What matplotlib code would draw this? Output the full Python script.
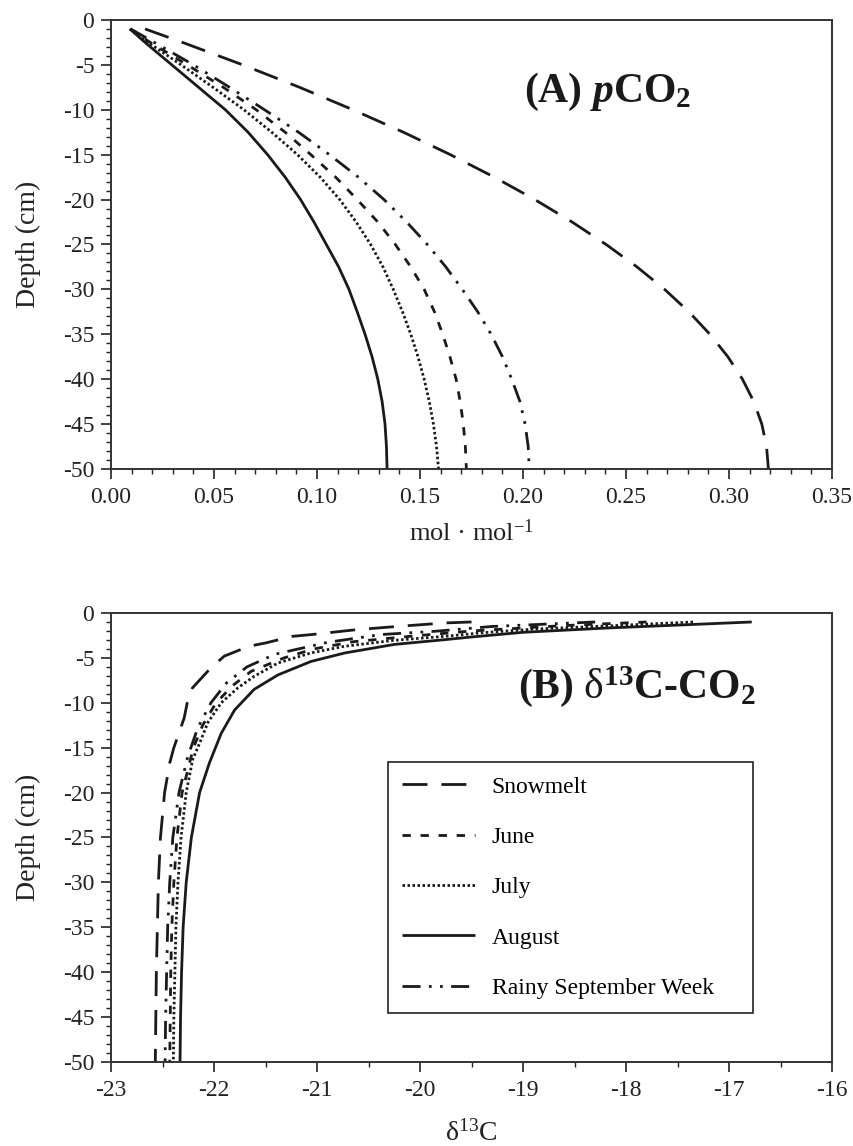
import matplotlib
matplotlib.use('Agg')
import matplotlib.pyplot as plt
from matplotlib.ticker import MultipleLocator, FormatStrFormatter

plt.rcParams['font.family'] = ['Liberation Serif', 'DejaVu Serif']
plt.rcParams['mathtext.fontset'] = 'custom'
plt.rcParams['mathtext.rm'] = 'Liberation Serif'
plt.rcParams['mathtext.it'] = 'Liberation Serif:italic'
plt.rcParams['mathtext.bf'] = 'Liberation Serif:bold'
plt.rcParams['mathtext.bfit'] = 'Liberation Serif:bold:italic'
plt.rcParams['axes.unicode_minus'] = False
plt.rcParams['lines.scale_dashes'] = False

# ---------------- Data ----------------
series = ['Snowmelt', 'June', 'July', 'August', 'Rainy September Week']

# Panel A: pCO2 (mol/mol) vs depth (cm)
depth_a = [-1, -2.5, -5, -7.5, -10, -12.5, -15, -17.5, -20, -22.5, -25,
           -27.5, -30, -32.5, -35, -37.5, -40, -42.5, -45, -47.5, -50]
pco2_snowmelt = [0.0165, 0.0347, 0.0639, 0.0915, 0.1174, 0.1419, 0.1647, 0.1860,
                 0.2057, 0.2238, 0.2403, 0.2553, 0.2687, 0.2805, 0.2907, 0.2994,
                 0.3065, 0.3120, 0.3159, 0.3182, 0.3191]
pco2_june = [0.0092, 0.019, 0.037, 0.0545, 0.0705, 0.0845, 0.097, 0.109, 0.1195,
             0.1295, 0.138, 0.1455, 0.152, 0.157, 0.161, 0.1645, 0.1675, 0.1695,
             0.171, 0.172, 0.1725]
pco2_july = [0.0092, 0.018, 0.034, 0.0495, 0.0645, 0.078, 0.0905, 0.1015, 0.111,
             0.119, 0.126, 0.132, 0.137, 0.1415, 0.1455, 0.149, 0.152, 0.1545,
             0.1565, 0.158, 0.159]
pco2_august = [0.0092, 0.0165, 0.0295, 0.0425, 0.0555, 0.0665, 0.076, 0.0845, 0.092,
               0.0985, 0.1045, 0.1105, 0.1155, 0.1195, 0.1233, 0.1267, 0.1295, 0.1316,
               0.133, 0.1337, 0.134]
pco2_rainy = [0.0095, 0.021, 0.040, 0.0575, 0.0745, 0.091, 0.106, 0.120, 0.1325,
              0.1435, 0.1535, 0.1625, 0.1705, 0.178, 0.1845, 0.190, 0.1945, 0.1985,
              0.201, 0.2025, 0.203]

# Panel B: d13C-CO2 (permil) vs depth (cm)
depth_b_snowmelt = [-1, -1.11, -1.48, -1.86, -2.41, -2.6, -3.34, -3.7, -4.8, -6.1,
                    -8.35, -10, -11.7, -15, -16.7, -20, -25, -30, -35, -40, -45, -50]
d13c_snowmelt = [-19.5, -19.76, -20.2, -20.62, -21.06, -21.24, -21.50, -21.66, -21.90,
                 -22.03, -22.21, -22.26, -22.29, -22.39, -22.43, -22.48, -22.52,
                 -22.54, -22.55, -22.56, -22.565, -22.57]
depth_b_june = [-1, -1.4, -2, -2.6, -3.2, -4, -5, -6.5, -8, -10, -12.5, -15, -20,
                -25, -30, -35, -40, -45, -50]
d13c_june = [-17.8, -18.6, -19.5, -20.1, -20.65, -21.03, -21.32, -21.64, -21.81,
             -21.98, -22.11, -22.20, -22.31, -22.36, -22.39, -22.41, -22.42, -22.425,
             -22.43]
depth_b_july = [-1, -1.4, -1.8, -2.2, -2.6, -3.04, -3.7, -4.45, -5.57, -7.05, -8.35,
                -10, -12.2, -14.5, -16.3, -20, -25, -30, -35, -40, -45, -50]
d13c_july = [-17.35, -18.1, -18.9, -19.4, -19.76, -20.25, -20.73, -21.06, -21.38,
             -21.61, -21.77, -21.93, -22.06, -22.14, -22.207, -22.27, -22.32, -22.35,
             -22.37, -22.38, -22.39, -22.395]
depth_b_august = [-1, -1.3, -1.67, -2.15, -2.67, -2.97, -3.5, -4.45, -5.4, -6.9, -8.5,
                  -10.8, -13.4, -16.7, -20, -25, -30, -35, -40, -45, -50]
d13c_august = [-16.78, -17.4, -18.18, -19.0, -19.5, -19.76, -20.25, -20.73, -21.06,
               -21.38, -21.61, -21.80, -21.93, -22.045, -22.14, -22.22, -22.27, -22.30,
               -22.315, -22.325, -22.33]
depth_b_rainy = [-1, -1.5, -2.04, -2.4, -3.27, -4.6, -6, -7.8, -10, -12.8, -16, -20,
                 -25, -30, -35, -40, -45, -50]
d13c_rainy = [-18.3, -19.3, -19.86, -20.38, -20.9, -21.41, -21.68, -21.88, -22.03,
              -22.158, -22.255, -22.34, -22.40, -22.43, -22.45, -22.46, -22.47, -22.475]

x_ticks_a = [0.00, 0.05, 0.10, 0.15, 0.20, 0.25, 0.30, 0.35]
x_ticks_b = [-23, -22, -21, -20, -19, -18, -17, -16]
y_ticks = [0, -5, -10, -15, -20, -25, -30, -35, -40, -45, -50]

# ---------------- Styles ----------------
styles = {
    'Snowmelt': (0, (18, 10)),
    'June': (0, (6, 7)),
    'July': (0, (1.8, 1.8)),
    'August': '-',
    'Rainy September Week': (0, (13, 6, 2, 6, 2, 6)),
}
LW = 2.0
INK = '#1a1a1a'

fig = plt.figure(figsize=(8.54, 11.46), dpi=100)
axA = fig.add_axes([0.130, 0.5908, 0.8443, 0.3918])
axB = fig.add_axes([0.130, 0.0733, 0.8443, 0.3918])

data_a = [pco2_snowmelt, pco2_june, pco2_july, pco2_august, pco2_rainy]
for name, vals in zip(series, data_a):
    axA.plot(vals, depth_a, color=INK, lw=LW, linestyle=styles[name],
             dash_capstyle='butt', solid_capstyle='butt', label=name)

data_b = [(d13c_snowmelt, depth_b_snowmelt), (d13c_june, depth_b_june),
          (d13c_july, depth_b_july), (d13c_august, depth_b_august),
          (d13c_rainy, depth_b_rainy)]
for name, (vals, dep) in zip(series, data_b):
    axB.plot(vals, dep, color=INK, lw=LW, linestyle=styles[name],
             dash_capstyle='butt', solid_capstyle='butt', label=name)

for ax in (axA, axB):
    ax.set_ylim(-50, 0)
    ax.set_yticks(y_ticks)
    ax.yaxis.set_major_formatter(FormatStrFormatter('%d'))
    ax.yaxis.set_minor_locator(MultipleLocator(1))
    ax.tick_params(which='major', direction='out', length=7, width=1.2,
                   labelsize=17, top=False, right=False, pad=5, colors='#222222')
    ax.tick_params(which='minor', direction='out', length=3.5, width=1.0,
                   top=False, right=False, colors='#222222')
    ax.tick_params(axis='x', which='major', pad=6)
    for sp in ax.spines.values():
        sp.set_linewidth(1.4)
        sp.set_color('#333333')
    ax.set_ylabel('Depth (cm)', fontsize=20, labelpad=16, color='#222222')

axA.set_xlim(0, 0.35)
axA.set_xticks(x_ticks_a)
axA.xaxis.set_major_formatter(FormatStrFormatter('%.2f'))
axA.xaxis.set_minor_locator(MultipleLocator(0.01))
axA.set_xlabel('mol · mol$^{\\mathrm{-1}}$', fontsize=19, labelpad=8, color='#222222')

axB.set_xlim(-23, -16)
axB.set_xticks(x_ticks_b)
axB.xaxis.set_major_formatter(FormatStrFormatter('%d'))
axB.xaxis.set_minor_locator(MultipleLocator(0.5))
axB.set_xlabel(r'$\mathrm{\delta}^{\mathrm{13}}$C', fontsize=20, labelpad=14, color='#222222')

axA.text(0.241, -8.0, r'(A) $\mathbfit{p}$CO$_\mathbf{2}$', fontsize=30,
         fontweight='bold', ha='center', va='center', color='#1a1a1a')
axB.text(-17.89, -8.2, r'(B) $\mathrm{\delta}^{\mathbf{13}}$C-CO$_\mathbf{2}$', fontsize=30,
         fontweight='bold', ha='center', va='center', color='#1a1a1a')

leg = axB.legend(loc='upper left', bbox_to_anchor=(0.384, 0.109, 0.506, 0.559),
                 mode='expand', borderaxespad=0, fontsize=17, frameon=True,
                 fancybox=False, edgecolor='#222222', framealpha=1,
                 handlelength=3.1, handletextpad=0.7, borderpad=0.6,
                 labelspacing=1.22)
leg.get_frame().set_linewidth(1.2)

fig.savefig('out.png', dpi=100)
